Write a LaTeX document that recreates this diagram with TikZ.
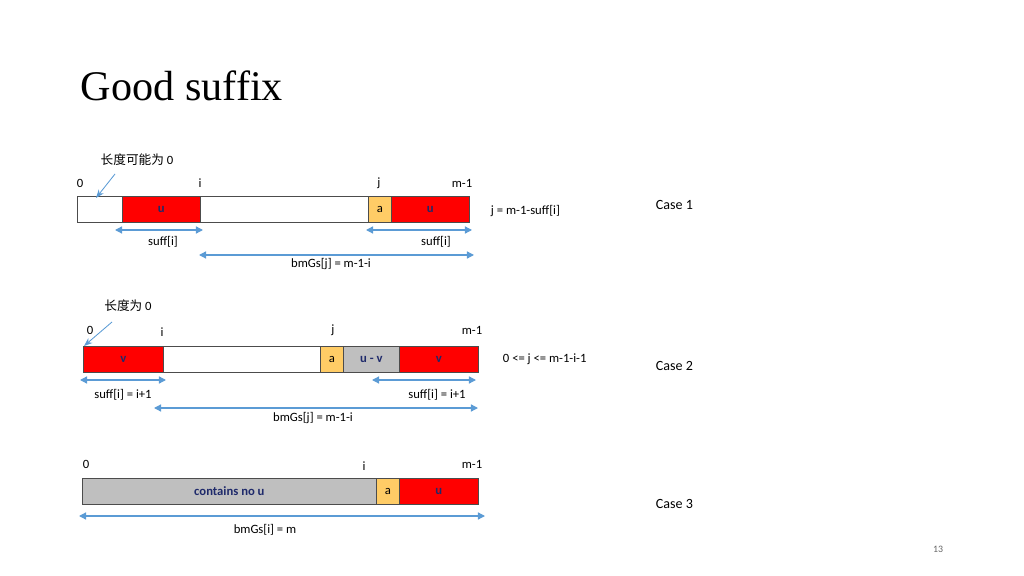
\documentclass[tikz,border=0pt]{standalone}
\usepackage{fontspec}
\setmainfont{Carlito}
\newfontfamily\titlefont{Liberation Serif}
\newfontfamily\cjk{Noto Sans CJK SC}
\usetikzlibrary{arrows.meta}
\definecolor{arrowblue}{HTML}{5B9BD5}
\definecolor{cellred}{HTML}{FF0000}
\definecolor{cellyellow}{HTML}{FFCC66}
\definecolor{cellgrey}{HTML}{BFBFBF}
\definecolor{textnavy}{HTML}{1F2A6B}
\tikzset{
  cell/.style={draw=black!70, line width=0.5pt, minimum height=26*0.025cm, inner sep=0pt, anchor=west, font=\bfseries\small, text=textnavy},
  tick/.style={font=\small},
  dimarrow/.style={arrowblue, line width=0.9pt, {Triangle[length=5pt,width=5pt]}-{Triangle[length=5pt,width=5pt]}},
  pointer/.style={arrowblue, line width=0.6pt, -{Stealth[length=6pt]}}
}
\begin{document}
\begin{tikzpicture}[x=0.025cm, y=-0.025cm]
\useasboundingbox (0,0) rectangle (1024,576);

% title and page number
\node[font=\titlefont\fontsize{30}{36}\selectfont, anchor=west] (title) at (76,86) {Good suffix};
\node[font=\scriptsize, text=black!60] (page) at (938,549) {13};

% Case 1
\node[cell, fill=white, minimum width=45*0.025cm] (c1a) at (77,209) {};
\node[cell, fill=cellred, minimum width=78*0.025cm] (c1u) at (122,209) {u};
\node[cell, fill=white, minimum width=168*0.025cm] (c1b) at (200,209) {};
\node[cell, fill=cellyellow, minimum width=23*0.025cm, text=black, font=\small] (c1x) at (368,209) {a};
\node[cell, fill=cellred, minimum width=78*0.025cm] (c1v) at (391,209) {u};
\node[tick] (c1l0) at (80,183) {0};
\node[tick] (c1li) at (200,183) {i};
\node[tick] (c1lj) at (379,183) {j};
\node[tick] (c1lm) at (462,183) {m-1};
\node[tick, anchor=west] (c1r) at (486,211) {j = m-1-suff[i]};
\node[tick] (c1note) at (137,160) {{\cjk 长度可能为} 0};
\coordinate (c1p) at (115,174);
\coordinate (c1q) at (96,198);
\draw[pointer] (c1p) -- (c1q);
\coordinate (c1s1) at (115,230); \coordinate (c1e1) at (203,230);
\coordinate (c1s2) at (366,230); \coordinate (c1e2) at (472,230);
\coordinate (c1s3) at (199,255); \coordinate (c1e3) at (474,255);
\draw[dimarrow] (c1s1) -- (c1e1);
\draw[dimarrow] (c1s2) -- (c1e2);
\draw[dimarrow] (c1s3) -- (c1e3);
\node[tick] (c1d1) at (163,242) {suff[i]};
\node[tick] (c1d2) at (436,242) {suff[i]};
\node[tick] (c1d3) at (331,264) {bmGs[j] = m-1-i};

% Case 2
\node[cell, fill=cellred, minimum width=80*0.025cm] (c2v) at (83,359) {v};
\node[cell, fill=white, minimum width=157*0.025cm] (c2b) at (163,359) {};
\node[cell, fill=cellyellow, minimum width=23*0.025cm, text=black, font=\small] (c2x) at (320,359) {a};
\node[cell, fill=cellgrey, minimum width=56*0.025cm] (c2g) at (343,359) {u - v};
\node[cell, fill=cellred, minimum width=79*0.025cm] (c2w) at (399,359) {v};
\node[tick] (c2l0) at (90,330) {0};
\node[tick] (c2li) at (162,332) {i};
\node[tick] (c2lj) at (333,330) {j};
\node[tick] (c2lm) at (472,330) {m-1};
\node[tick, anchor=west] (c2r) at (498,359) {0 <= j <= m-1-i-1};
\node[tick] (c2note) at (128,306) {{\cjk 长度为} 0};
\coordinate (c2p) at (112,322);
\coordinate (c2q) at (84,346);
\draw[pointer] (c2p) -- (c2q);
\coordinate (c2s1) at (80,380); \coordinate (c2e1) at (166,380);
\coordinate (c2s2) at (372,380); \coordinate (c2e2) at (476,380);
\coordinate (c2s3) at (154,408); \coordinate (c2e3) at (478,408);
\draw[dimarrow] (c2s1) -- (c2e1);
\draw[dimarrow] (c2s2) -- (c2e2);
\draw[dimarrow] (c2s3) -- (c2e3);
\node[tick] (c2d1) at (123,395) {suff[i] = i+1};
\node[tick] (c2d2) at (437,395) {suff[i] = i+1};
\node[tick] (c2d3) at (313,418) {bmGs[j] = m-1-i};

% Case 3
\node[cell, fill=cellgrey, minimum width=294*0.025cm] (c3g) at (82,491) {contains no u};
\node[cell, fill=cellyellow, minimum width=23*0.025cm, text=black, font=\small] (c3x) at (376,491) {a};
\node[cell, fill=cellred, minimum width=79*0.025cm] (c3u) at (399,491) {u};
\node[tick] (c3l0) at (86,464) {0};
\node[tick] (c3li) at (364,466) {i};
\node[tick] (c3lm) at (472,464) {m-1};
\coordinate (c3s) at (79,516); \coordinate (c3e) at (485,516);
\draw[dimarrow] (c3s) -- (c3e);
\node[tick] (c3d) at (265,530) {bmGs[i] = m};

% case labels
\node[anchor=west] (case1) at (651,205) {Case 1};
\node[anchor=west] (case2) at (651,366) {Case 2};
\node[anchor=west] (case3) at (651,504) {Case 3};
\end{tikzpicture}
\end{document}
